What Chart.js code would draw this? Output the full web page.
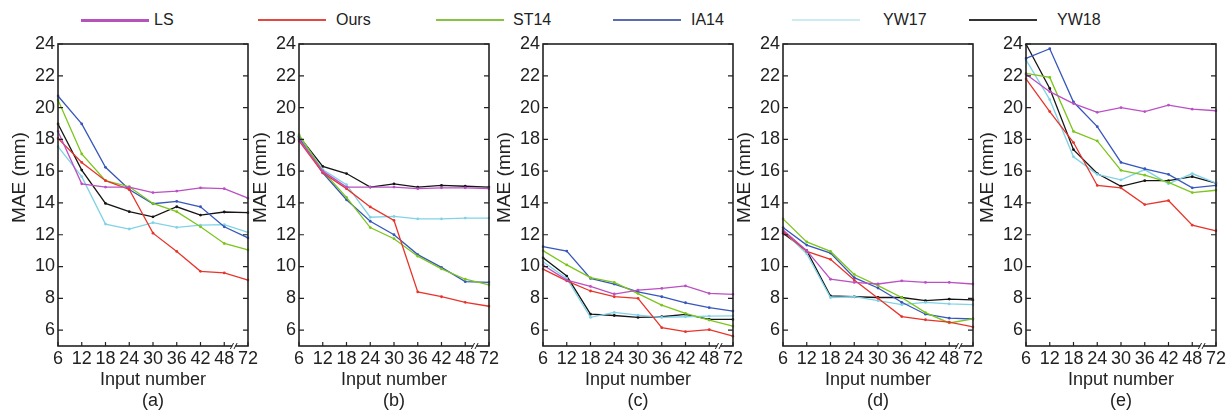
<!DOCTYPE html>
<html>
<head>
<meta charset="utf-8">
<script src="https://cdn.jsdelivr.net/npm/chart.js@4"></script>
<style>
  html, body { margin: 0; padding: 0; background: #fff; }
  body { width: 1230px; height: 412px; position: relative; overflow: hidden;
         font-family: "Liberation Sans", Arial, sans-serif; color: #222; }
  .cv { position: absolute; top: 0; }
  .lg-line { position: absolute; height: 0; }
  .lg-text { position: absolute; top: 10px; font-size: 16px; line-height: 20px; color: #222; }
</style>
</head>
<body>
<script>
// ---------------- DATA ----------------
const categories = ['6', '12', '18', '24', '30', '36', '42', '48', '72'];
const yTicks = [6, 8, 10, 12, 14, 16, 18, 20, 22, 24];
const panelNames = ['(a)', '(b)', '(c)', '(d)', '(e)'];
const seriesNames = ['LS', 'Ours', 'ST14', 'IA14', 'YW17', 'YW18'];
const yTitle = 'MAE (mm)';
const xTitle = 'Input number';

// one row per panel (a)..(e)
const LS = [
  [18.5, 15.2, 15.0, 15.0, 14.65, 14.75, 14.95, 14.9, 14.3],
  [18.0, 16.0, 15.0, 15.0, 15.0, 14.9, 14.95, 14.95, 14.9],
  [10.1, 9.15, 8.75, 8.27, 8.52, 8.62, 8.78, 8.31, 8.25],
  [12.3, 11.0, 9.2, 9.0, 8.9, 9.1, 9.0, 9.0, 8.9],
  [22.1, 21.0, 20.25, 19.7, 20.0, 19.75, 20.15, 19.9, 19.8]
];
const Ours = [
  [18.06, 16.55, 15.4, 14.85, 12.1, 10.95, 9.7, 9.6, 9.15],
  [17.9, 15.9, 14.9, 13.75, 12.9, 8.4, 8.1, 7.75, 7.5],
  [9.84, 9.1, 8.46, 8.1, 8.0, 6.15, 5.9, 6.03, 5.62],
  [12.2, 10.95, 10.45, 9.15, 8.0, 6.85, 6.65, 6.5, 6.2],
  [21.8, 19.75, 17.8, 15.1, 14.95, 13.9, 14.15, 12.6, 12.25]
];
const ST14 = [
  [20.48, 17.08, 15.4, 15.02, 13.97, 13.45, 12.5, 11.45, 11.04],
  [18.3, 16.0, 14.35, 12.45, 11.75, 10.65, 9.85, 9.2, 8.85],
  [11.0, 10.1, 9.3, 9.0, 8.3, 7.57, 7.05, 6.63, 6.25],
  [13.0, 11.55, 10.95, 9.5, 8.8, 8.05, 7.1, 6.45, 6.7],
  [22.15, 21.9, 18.5, 17.9, 16.05, 15.75, 15.3, 14.65, 14.8]
];
const IA14 = [
  [20.73, 18.97, 16.24, 14.85, 13.95, 14.1, 13.76, 12.5, 11.8],
  [18.1, 15.9, 14.2, 12.85, 12.0, 10.75, 9.95, 9.05, 9.0],
  [11.25, 10.97, 9.25, 8.9, 8.41, 8.1, 7.72, 7.41, 7.2],
  [12.45, 11.35, 10.85, 9.3, 8.65, 7.75, 7.0, 6.75, 6.7],
  [23.1, 23.7, 20.35, 18.8, 16.55, 16.15, 15.8, 14.95, 15.1]
];
const YW17 = [
  [17.54, 15.65, 12.67, 12.36, 12.76, 12.46, 12.6, 12.63, 12.15],
  [18.2, 16.1, 15.15, 13.1, 13.15, 13.0, 13.0, 13.05, 13.05],
  [10.3, 9.25, 6.8, 7.11, 6.94, 6.8, 6.84, 6.88, 6.9],
  [12.25, 10.8, 8.05, 8.1, 7.85, 7.6, 7.75, 7.65, 7.6],
  [23.0, 20.5, 16.9, 15.8, 15.45, 16.1, 15.2, 15.85, 15.25]
];
const YW18 = [
  [18.97, 16.07, 13.97, 13.45, 13.13, 13.76, 13.24, 13.43, 13.39],
  [18.2, 16.3, 15.85, 15.0, 15.2, 15.0, 15.1, 15.05, 15.0],
  [10.55, 9.4, 7.0, 6.92, 6.8, 6.84, 6.99, 6.67, 6.67],
  [12.1, 11.0, 8.15, 8.1, 8.05, 8.05, 7.85, 7.95, 7.9],
  [24.0, 21.2, 17.35, 15.85, 15.05, 15.4, 15.4, 15.65, 15.25]
];

// ---------------- STYLE / LAYOUT ----------------
const seriesData = [LS, Ours, ST14, IA14, YW17, YW18];
const seriesColors = ['#bb4fc4', '#e8352c', '#7cc51c', '#3757bd', '#80d3e6', '#151515'];
const legendColors = ['#b552bc', '#e5473e', '#84c442', '#5a6bb4', '#cdecf2', '#333333'];
const legendLineX = [81, 258, 436, 613, 792, 969];
const legendTextX = [154, 336, 513, 691, 883, 1057];
const legendWidth = [3, 2, 2, 2, 2, 2];
const areaLeft = [58, 299, 543, 783, 1026];
const areaWidth = 190;
const padL = 8, padR = 14, yAxisW = 50;
const FONT = '"Liberation Sans", Arial, sans-serif';

// legend (HTML)
seriesNames.forEach((name, i) => {
  const ln = document.createElement('div');
  ln.className = 'lg-line';
  ln.style.left = legendLineX[i] + 'px';
  ln.style.width = '68px';
  ln.style.top = (20 - legendWidth[i] / 2) + 'px';
  ln.style.borderTop = legendWidth[i] + 'px solid ' + legendColors[i];
  document.body.appendChild(ln);
  const tx = document.createElement('div');
  tx.className = 'lg-text';
  tx.style.left = legendTextX[i] + 'px';
  tx.textContent = name;
  document.body.appendChild(tx);
});

const framePlugin = {
  id: 'frame',
  afterDatasetsDraw(chart) {
    const { ctx, chartArea: { left, right, top, bottom }, scales: { x, y } } = chart;
    ctx.save();
    ctx.strokeStyle = '#222';
    ctx.lineWidth = 1.2;
    ctx.beginPath();
    y.ticks.forEach(t => {
      const py = y.getPixelForValue(t.value);
      ctx.moveTo(left, py); ctx.lineTo(left + 5, py);
      ctx.moveTo(right, py); ctx.lineTo(right - 5, py);
    });
    x.ticks.forEach((t, i) => {
      const px = x.getPixelForTick(i);
      ctx.moveTo(px, bottom); ctx.lineTo(px, bottom - 4);
    });
    ctx.stroke();
    ctx.lineWidth = 1.6;
    ctx.strokeRect(left, top, right - left, bottom - top);
    // axis break marker between the last two categories
    const n = x.ticks.length;
    const p1 = x.getPixelForTick(n - 2), p2 = x.getPixelForTick(n - 1);
    const bx = p1 + 0.4 * (p2 - p1);
    ctx.fillStyle = '#fff';
    ctx.fillRect(bx - 1.5, bottom - 2, 3, 4);
    ctx.lineWidth = 1;
    ctx.beginPath();
    [-1.8, 1.8].forEach(d => {
      ctx.moveTo(bx + d - 1.6, bottom + 3);
      ctx.lineTo(bx + d + 1.6, bottom - 3);
    });
    ctx.stroke();
    // y-axis title (placed like the original, slightly above the axis centre)
    ctx.fillStyle = '#222';
    ctx.font = '19px ' + FONT;
    ctx.textAlign = 'center';
    ctx.textBaseline = 'middle';
    ctx.translate(left - 38.5, y.getPixelForValue(15.6));
    ctx.rotate(-Math.PI / 2);
    ctx.fillText(yTitle, 0, 0);
    ctx.restore();
  }
};

panelNames.forEach((pname, p) => {
  const cv = document.createElement('canvas');
  cv.className = 'cv';
  const w = padL + yAxisW + areaWidth + padR;
  cv.style.left = (areaLeft[p] - padL - yAxisW) + 'px';
  cv.style.width = w + 'px';
  cv.style.height = '412px';
  cv.width = w; cv.height = 412;
  document.body.appendChild(cv);

  new Chart(cv, {
    type: 'line',
    data: {
      labels: categories,
      datasets: seriesNames.map((s, i) => ({
        label: s,
        data: seriesData[i][p],
        borderColor: seriesColors[i],
        backgroundColor: seriesColors[i],
        borderWidth: 1.3,
        pointRadius: 1.4,
        pointBorderWidth: 0,
        pointHoverRadius: 0,
        tension: 0,
        fill: false
      }))
    },
    options: {
      responsive: false,
      animation: false,
      events: [],
      layout: { padding: { left: padL, right: padR, top: 44, bottom: 0 } },
      plugins: { legend: { display: false }, tooltip: { enabled: false } },
      scales: {
        x: {
          type: 'category',
          offset: false,
          grid: { display: false, drawTicks: false },
          border: { display: false },
          ticks: { color: '#222', font: { family: FONT, size: 18 }, padding: 2, maxRotation: 0, autoSkip: false },
          title: { display: true, text: [xTitle, pname], color: '#222',
                   font: { family: FONT, size: 18, lineHeight: 1.2 }, padding: 0 },
          afterFit(axis) { axis.height = 66; }
        },
        y: {
          type: 'linear',
          min: 5, max: 24,
          grid: { display: false, drawTicks: false },
          border: { display: false },
          ticks: { color: '#222', font: { family: FONT, size: 18 }, padding: 3 },
          afterBuildTicks(axis) { axis.ticks = yTicks.map(v => ({ value: v })); },
          title: { display: false },
          afterFit(axis) { axis.width = yAxisW; }
        }
      }
    },
    plugins: [framePlugin]
  });
});
</script>
</body>
</html>
